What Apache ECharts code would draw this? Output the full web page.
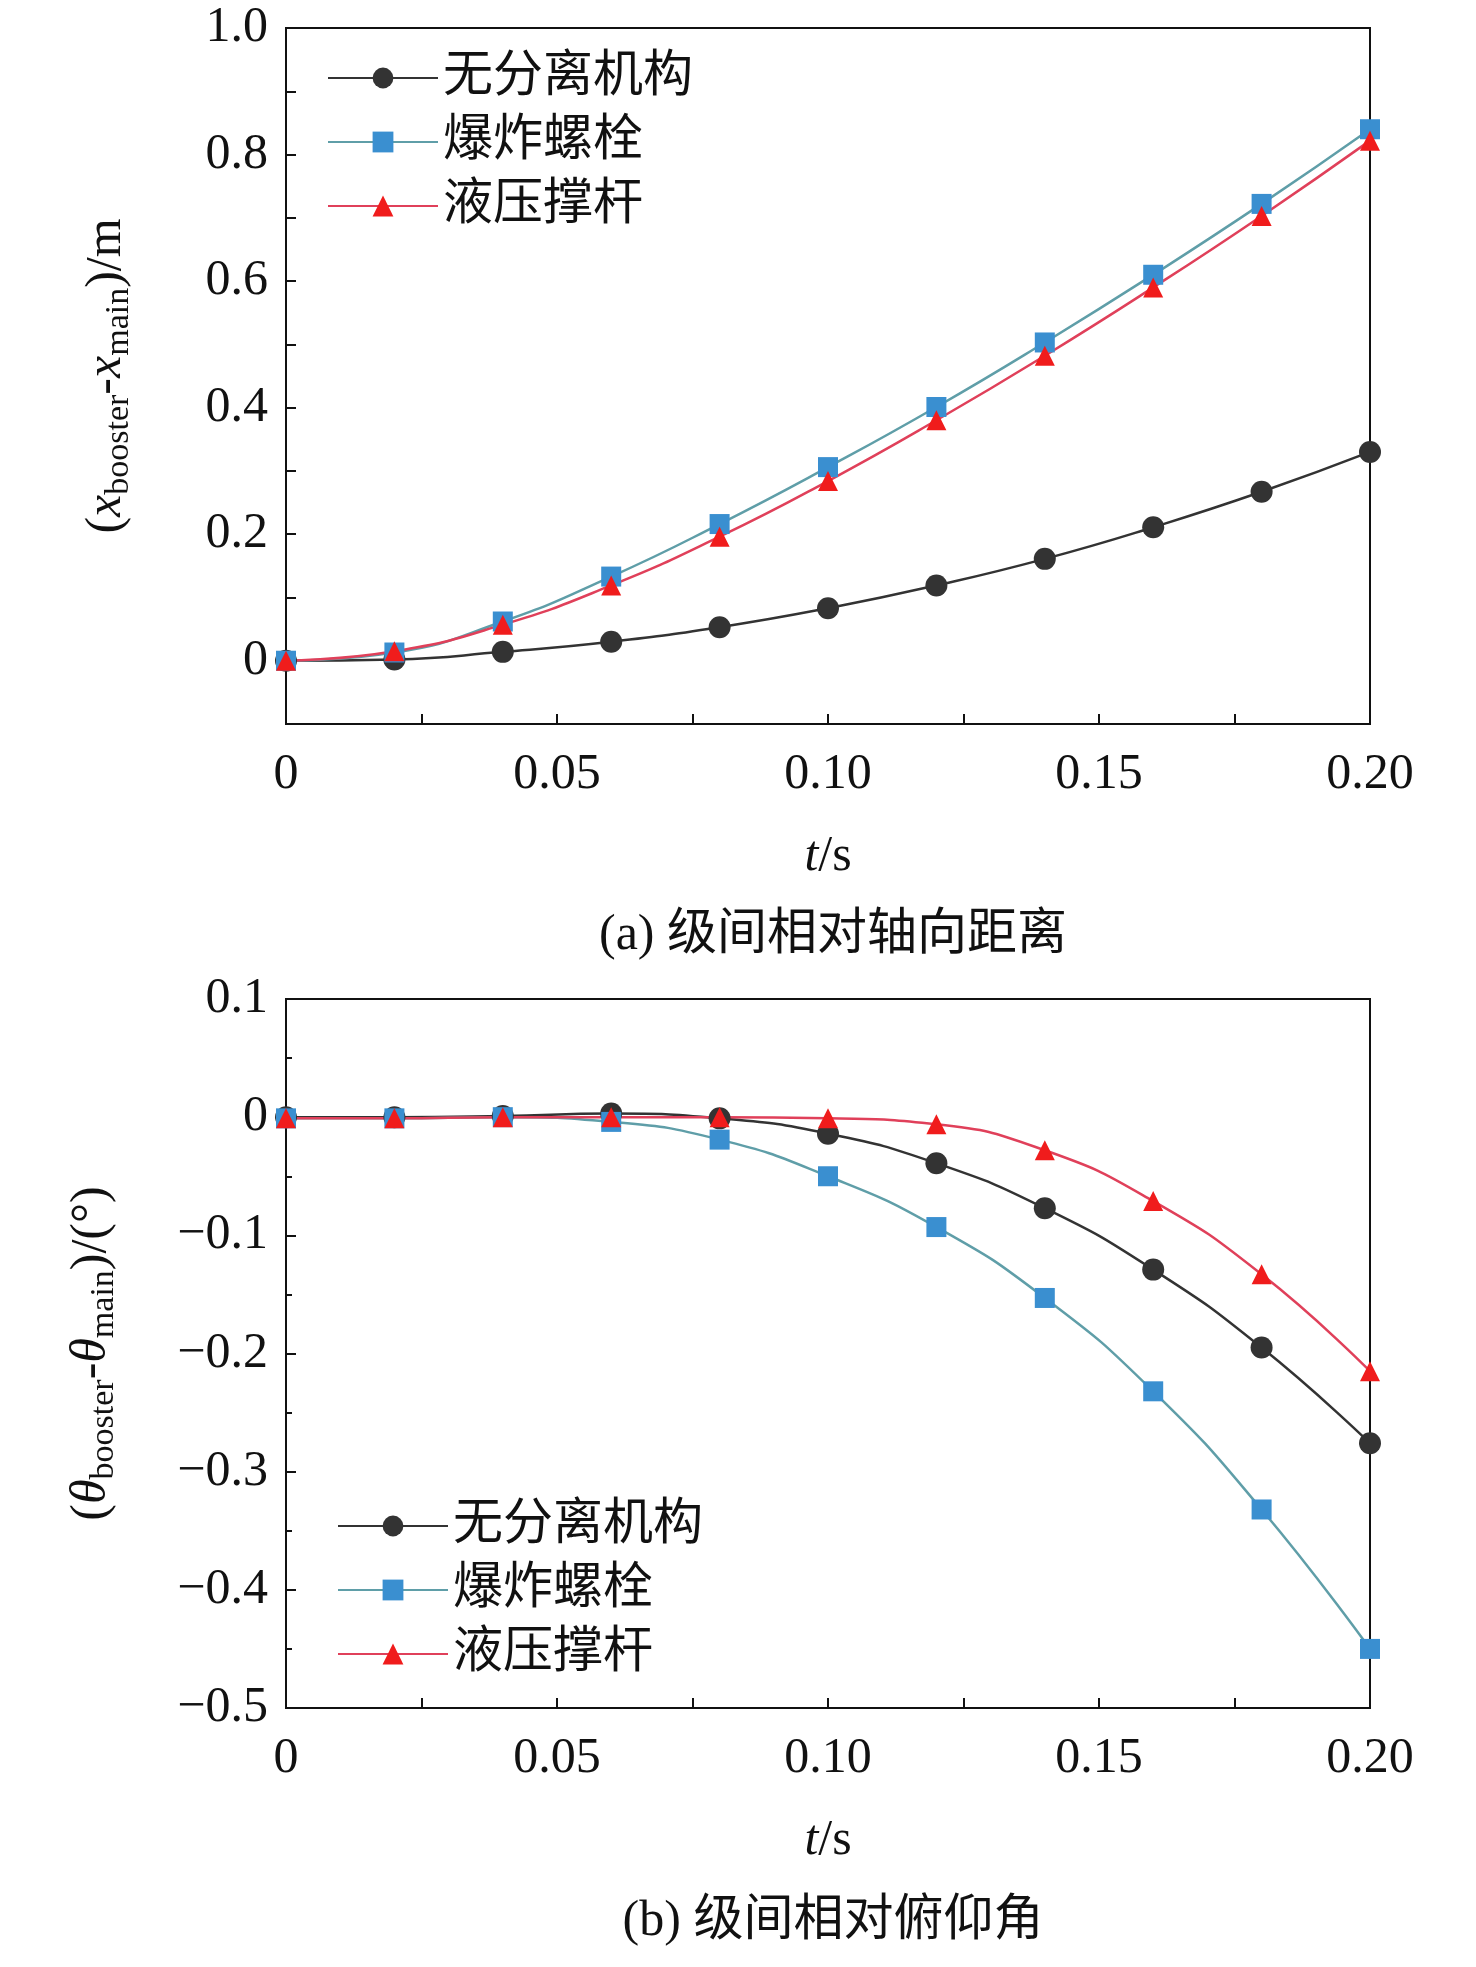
<!DOCTYPE html>
<html><head><meta charset="utf-8">
<script src="https://cdn.jsdelivr.net/npm/echarts@6/dist/echarts.min.js"></script>
<style>html,body{margin:0;background:#fff}#c{width:1476px;height:1967px}</style>
</head><body><div id="c"></div>
<script>
const t = [0, 0.02, 0.04, 0.06, 0.08, 0.10, 0.12, 0.14, 0.16, 0.18, 0.20];
const names = ['无分离机构', '爆炸螺栓', '液压撑杆'];
const distNone = [0, 0.002, 0.014, 0.030, 0.053, 0.083, 0.119, 0.161, 0.211, 0.267, 0.330];
const distBolt = [0, 0.013, 0.062, 0.133, 0.216, 0.306, 0.401, 0.503, 0.610, 0.722, 0.840];
const distHyd = [0, 0.015, 0.057, 0.119, 0.196, 0.284, 0.380, 0.482, 0.590, 0.703, 0.822];
const pitchNone = [0, 0, 0.001, 0.003, -0.001, -0.014, -0.039, -0.077, -0.129, -0.195, -0.276];
const pitchBolt = [-0.001, -0.001, 0, -0.004, -0.019, -0.050, -0.093, -0.153, -0.232, -0.332, -0.450];
const pitchHyd = [-0.001, -0.001, 0, 0, 0, -0.001, -0.006, -0.028, -0.071, -0.133, -0.215];
const captions = ['(a) 级间相对轴向距离', '(b) 级间相对俯仰角'];

const serif = 'Liberation Serif, Times New Roman, serif';
const cjk = '"Liberation Serif", "Noto Sans CJK SC", serif';
const lineCol = ['#333333', '#5f9ea8', '#e0405a'];
const markCol = ['#333333', '#3a8fd0', '#f01c1c'];
const symbols = ['circle', 'rect', 'triangle'];
const FS = 50;

const pair = (ys) => t.map((x, i) => [x, ys[i]]);

function xAxis(idx) {
  return {
    gridIndex: idx, type: 'value', min: 0, max: 0.2, interval: 0.05,
    name: '{i|t}/s', nameLocation: 'middle', nameGap: 108,
    nameTextStyle: { fontFamily: serif, fontSize: FS, color: '#111', rich: { i: { fontStyle: 'italic', fontFamily: serif, fontSize: FS } } },
    axisLine: { onZero: false, lineStyle: { color: '#111', width: 2 } },
    axisTick: { inside: true, length: 10, lineStyle: { color: '#111', width: 2 } },
    minorTick: { show: true, splitNumber: 2, length: 10, lineStyle: { color: '#111', width: 2 } },
    axisLabel: { fontFamily: serif, fontSize: FS, color: '#111', margin: 26,
      formatter: v => v === 0 ? '0' : v.toFixed(2) },
    splitLine: { show: false }
  };
}

const chart = echarts.init(document.getElementById('c'));
chart.setOption({
  animation: false,
  backgroundColor: '#fff',
  title: captions.map((c, i) => ({
    text: c, left: 828, textAlign: 'center', top: i === 0 ? 906 : 1892,
    textStyle: { fontFamily: cjk, fontSize: FS, fontWeight: 'normal', color: '#111' }
  })),
  grid: [
    { left: 286, width: 1084, top: 28, height: 696, show: true, borderColor: '#111', borderWidth: 2 },
    { left: 286, width: 1084, top: 999, height: 709, show: true, borderColor: '#111', borderWidth: 2 }
  ],
  legend: [0, 1].map(g => ({
    left: g === 0 ? 322 : 332, top: g === 0 ? 48 : 1496, orient: 'vertical',
    itemWidth: 110, itemHeight: 26, itemGap: 14,
    data: names.map((n, k) => ({ name: n + (g ? ' ' : '') })),
    textStyle: { fontFamily: cjk, fontSize: 50, color: '#111' }
  })),
  xAxis: [xAxis(0), xAxis(1)],
  yAxis: [
    {
      gridIndex: 0, type: 'value', min: -0.1, max: 1.0, interval: 0.1,
      name: '({i|x}{s|booster}-{i|x}{s|main})/m', nameLocation: 'middle', nameGap: 150, nameRotate: 90,
      nameTextStyle: { fontFamily: serif, fontSize: FS, color: '#111',
        rich: { i: { fontStyle: 'italic', fontFamily: serif, fontSize: FS }, s: { fontFamily: serif, fontSize: 34, padding: [24, 0, 0, 0] } } },
      axisLine: { lineStyle: { color: '#111', width: 2 } },
      axisTick: { inside: true, length: 10, lineStyle: { color: '#111', width: 2 } },
      axisLabel: { fontFamily: serif, fontSize: FS, color: '#111', margin: 18,
        formatter: v => { const r = Math.round(v * 10); if (r < 0 || r % 2) return ''; return r === 0 ? '0' : (r / 10).toFixed(1); } },
      splitLine: { show: false }
    },
    {
      gridIndex: 1, type: 'value', min: -0.5, max: 0.1, interval: 0.1,
      name: '({i|θ}{s|booster}-{i|θ}{s|main})/(°)', nameLocation: 'middle', nameGap: 165, nameRotate: 90,
      nameTextStyle: { fontFamily: serif, fontSize: FS, color: '#111',
        rich: { i: { fontStyle: 'italic', fontFamily: serif, fontSize: FS }, s: { fontFamily: serif, fontSize: 34, padding: [24, 0, 0, 0] } } },
      axisLine: { lineStyle: { color: '#111', width: 2 } },
      axisTick: { inside: true, length: 10, lineStyle: { color: '#111', width: 2 } },
      minorTick: { show: true, splitNumber: 2, length: 6, lineStyle: { color: '#111', width: 2 } },
      axisLabel: { fontFamily: serif, fontSize: FS, color: '#111', margin: 18,
        formatter: v => { const r = Math.round(v * 10); return r === 0 ? '0' : (r < 0 ? '\u2212' : '') + (Math.abs(r) / 10).toFixed(1); } },
      splitLine: { show: false }
    }
  ],
  series: [
    [distNone, distBolt, distHyd],
    [pitchNone, pitchBolt, pitchHyd]
  ].flatMap((grp, g) => grp.map((ys, k) => ({
    name: names[k] + (g ? ' ' : ''), type: 'line', smooth: true,
    xAxisIndex: g, yAxisIndex: g, data: pair(ys), clip: false,
    symbol: symbols[k], symbolSize: k === 0 ? 22 : 20,
    lineStyle: { color: lineCol[k], width: 2.5 },
    itemStyle: { color: markCol[k] }
  })))
});
</script></body></html>
